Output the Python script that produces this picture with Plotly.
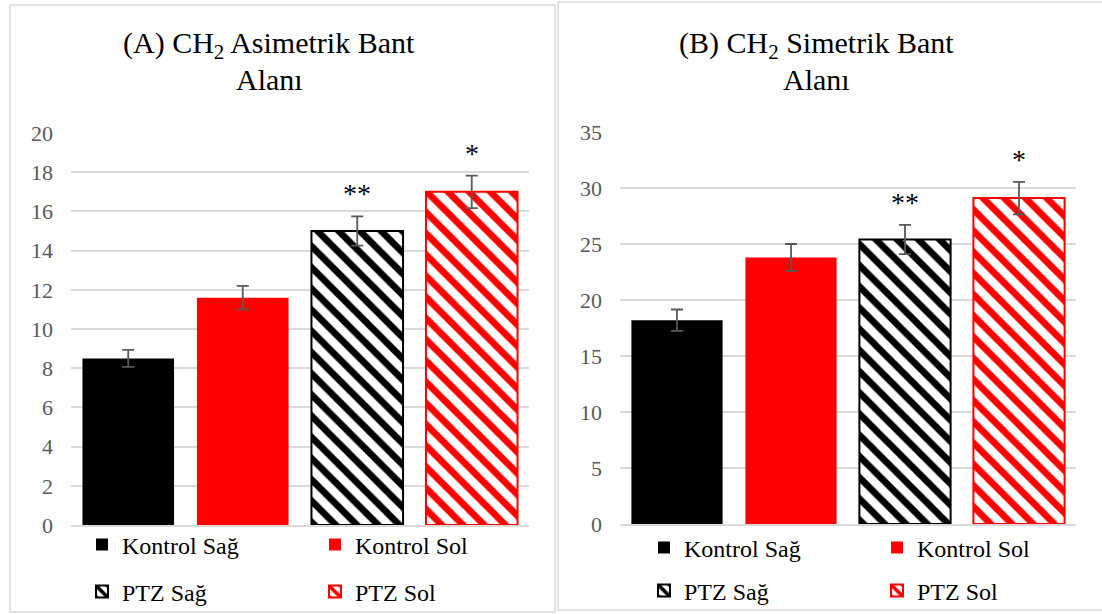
import plotly.graph_objects as go

# ---- data ----
groups = ["Kontrol Sağ", "Kontrol Sol", "PTZ Sağ", "PTZ Sol"]
asym_values = [8.5, 11.6, 15.0, 17.0]
asym_errors = [0.43, 0.6, 0.75, 0.83]
sym_values = [18.2, 23.8, 25.4, 29.1]
sym_errors = [0.95, 1.2, 1.3, 1.45]
asym_marks = ["", "", "**", "*"]
sym_marks = ["", "", "**", "*"]
asym_ticks = [0, 2, 4, 6, 8, 10, 12, 14, 16, 18, 20]
sym_ticks = [0, 5, 10, 15, 20, 25, 30, 35]

FONT = "Liberation Serif"
GRID = "#d9d9d9"
TICKC = "#595959"
W, H = 1102, 614

colors = ["#000000", "#ff0000", "#000000", "#ff0000"]
patterned = [False, False, True, True]
first_col = [True, False, True, False]


def px_x(p):
    return p / W


def px_y(p):
    return 1 - p / H


fig = go.Figure()

panels = [
    dict(vals=asym_values, errs=asym_errors, marks=asym_marks, xa="x", ya="y",
         legends=["legend", "legend", "legend2", "legend2"]),
    dict(vals=sym_values, errs=sym_errors, marks=sym_marks, xa="x2", ya="y2",
         legends=["legend3", "legend3", "legend4", "legend4"]),
]

for p in panels:
    for i, g in enumerate(groups):
        if patterned[i]:
            marker = dict(color="white",
                          pattern=dict(shape="\\", fgcolor=colors[i], bgcolor="white",
                                       size=15, solidity=0.45, fillmode="replace"),
                          line=dict(color=colors[i], width=2))
        else:
            marker = dict(color=colors[i], line=dict(color=colors[i], width=0))
        fig.add_trace(go.Bar(
            x=[g], y=[p["vals"][i]], name=g, width=0.8,
            marker=marker,
            error_y=dict(type="data", array=[p["errs"][i]], color=TICKC,
                         thickness=1.8, width=6),
            xaxis=p["xa"], yaxis=p["ya"], legend=p["legends"][i],
            legendwidth=188 if first_col[i] else 120,
            showlegend=True,
        ))
        if p["marks"][i]:
            fig.add_annotation(
                x=g, y=p["vals"][i] + p["errs"][i], xref=p["xa"], yref=p["ya"],
                text=p["marks"][i], showarrow=False, yanchor="bottom", yshift=5,
                font=dict(family=FONT, size=28, color="black"))

axis_common = dict(showgrid=False, showline=True, linecolor=GRID, linewidth=1.5,
                   showticklabels=False, ticks="", fixedrange=True,
                   categoryorder="array", categoryarray=groups)
yaxis_common = dict(showgrid=True, gridcolor=GRID, gridwidth=1.5, zeroline=False,
                    showline=False, ticks="", ticklabelstandoff=17,
                    tickfont=dict(family=FONT, size=22, color=TICKC))

legend_common = dict(orientation="h", xanchor="left", yanchor="middle",
                     entrywidthmode="pixels", bgcolor="rgba(0,0,0,0)",
                     font=dict(family=FONT, size=24, color="black"),
                     itemclick=False, itemdoubleclick=False, traceorder="normal")

fig.update_layout(
    width=W, height=H, margin=dict(l=0, r=0, t=0, b=0, autoexpand=False),
    paper_bgcolor="white", plot_bgcolor="white",
    barmode="overlay", bargap=0.2,
    font=dict(family=FONT),
    xaxis=dict(domain=[px_x(71), px_x(529)], anchor="y", **axis_common),
    yaxis=dict(domain=[px_y(525), px_y(133)], anchor="x", range=[0, 20],
               tickvals=asym_ticks, **yaxis_common),
    xaxis2=dict(domain=[px_x(620), px_x(1076)], anchor="y2", **axis_common),
    yaxis2=dict(domain=[px_y(524), px_y(132)], anchor="x2", range=[0, 35],
                tickvals=sym_ticks, **yaxis_common),
    legend=dict(x=px_x(82), y=px_y(545), **legend_common),
    legend2=dict(x=px_x(82), y=px_y(592), **legend_common),
    legend3=dict(x=px_x(644), y=px_y(548), **legend_common),
    legend4=dict(x=px_x(644), y=px_y(591), **legend_common),
    shapes=[
        dict(type="rect", xref="paper", yref="paper",
             x0=px_x(10), x1=px_x(555), y0=px_y(612), y1=px_y(5),
             line=dict(color=GRID, width=1.5), fillcolor="rgba(0,0,0,0)", layer="below"),
        dict(type="rect", xref="paper", yref="paper",
             x0=px_x(558), x1=px_x(1104), y0=px_y(610), y1=px_y(2),
             line=dict(color=GRID, width=1.5), fillcolor="rgba(0,0,0,0)", layer="below"),
    ],
)

titles = [
    ("(A) CH<sub>2</sub> Asimetrik Bant", 269, 45),
    ("Alanı", 269, 79),
    ("(B) CH<sub>2</sub> Simetrik Bant", 816, 45),
    ("Alanı", 816, 79),
]
for t, cx, cy in titles:
    fig.add_annotation(x=px_x(cx), y=px_y(cy), xref="paper", yref="paper",
                       text=t, showarrow=False, xanchor="center", yanchor="middle",
                       font=dict(family=FONT, size=30, color="black"))

fig.write_html(
    "out.html",
    config={"displayModeBar": False},
    post_script="document.body.style.margin='0px';document.body.style.overflow='hidden';",
)
